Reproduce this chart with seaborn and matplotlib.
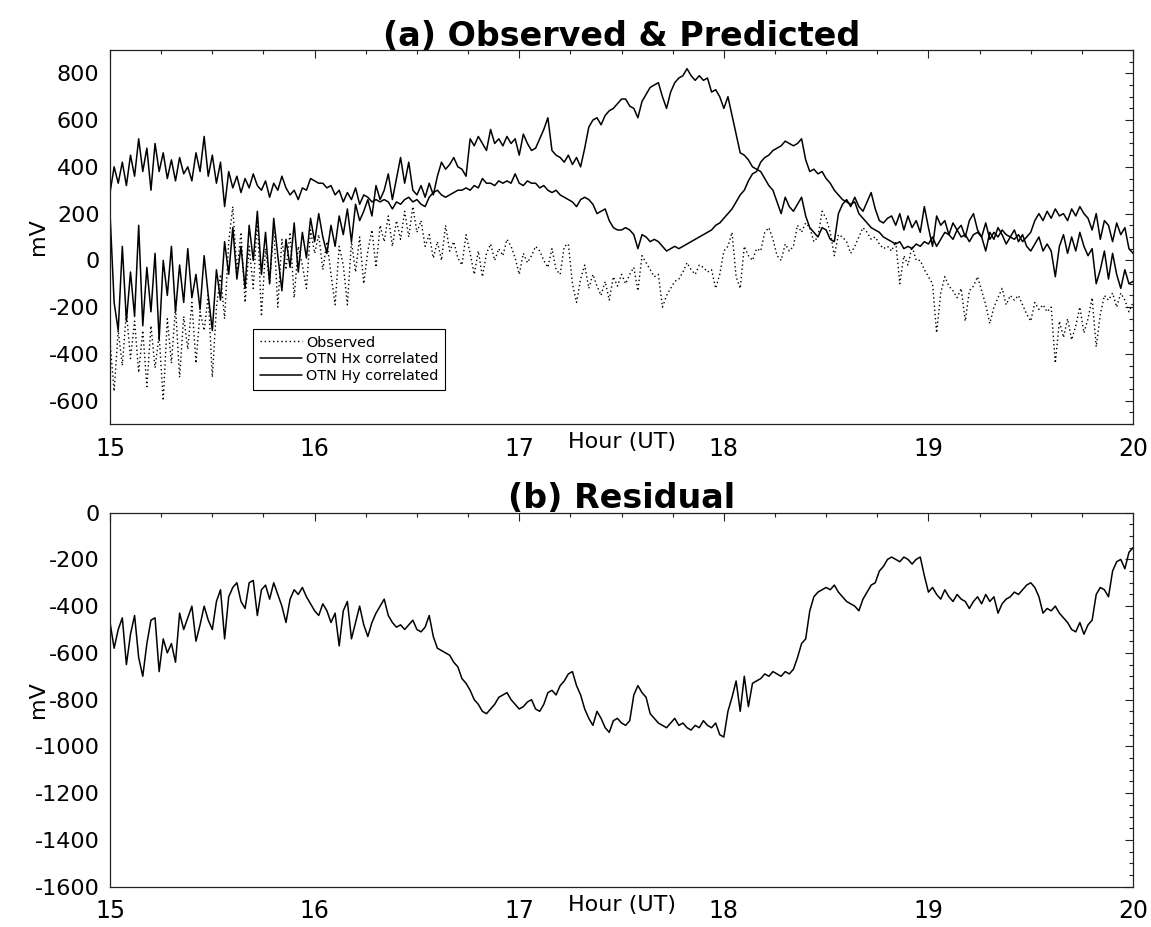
import numpy as np
import matplotlib
matplotlib.use("Agg")
import matplotlib.pyplot as plt
import seaborn as sns
from matplotlib.ticker import MultipleLocator

# ---------------------------------------------------------------
# Voltage record, 15-20 UT, one sample every 0.02 h (1.2 min)
# ---------------------------------------------------------------
observed = [
    -350, -560, -300, -450, -220, -420, -260, -480, -300, -540,   # 15.0
    -280, -460, -320, -600, -250, -440, -200, -500, -240, -380,   # 15.2
    -180, -440, -220, -300, -150, -500, -200, -60, -250, 80,      # 15.4
    230, -50, 120, -180, 60, -120, 180, -240, 50, -100,           # 15.6
    140, -200, 90, -40, 120, -160, 60, -20, -120, 130,            # 15.8
    30, 110, -40, 80, -60, -190, 60, -20, -190, 80,               # 16.0
    -50, 100, -100, 40, 130, -30, 150, 80, 190, 60,               # 16.2
    170, 90, 210, 100, 230, 120, 170, 60, 110, 10,                # 16.4
    80, 0, 150, 40, 80, 10, -20, 110, 30, -60,                    # 16.6
    40, -70, 30, 70, 0, 50, 20, 90, 60, 10,                       # 16.8
    -60, 30, -10, 20, 60, 40, 0, -30, 50, -40,                    # 17.0
    -60, 60, 70, -100, -180, -80, -20, -120, -60, -110,           # 17.2
    -150, -90, -170, -70, -110, -60, -100, -60, -30, -130,        # 17.4
    20, -10, -40, -70, -60, -200, -150, -120, -90, -80,           # 17.6
    -50, -10, -40, -60, -20, -30, -50, -40, -120, -60,            # 17.8
    40, 60, 120, -70, -120, 60, 20, 0, 50, 40,                    # 18.0
    120, 140, 90, 20, 0, 70, 40, 60, 150, 120,                    # 18.2
    160, 140, 80, 100, 210, 180, 120, 20, 110, 100,               # 18.4
    80, 30, 60, 100, 140, 120, 90, 100, 70, 50,                   # 18.6
    60, 40, 80, -100, 20, -20, 60, 0, 0, -40,                     # 18.8
    -70, -100, -310, -140, -70, -110, -130, -160, -120, -260,     # 19.0
    -130, -110, -70, -130, -190, -270, -200, -160, -120, -190,    # 19.2
    -150, -170, -150, -190, -230, -260, -180, -210, -190, -220,   # 19.4
    -200, -440, -260, -330, -250, -340, -280, -200, -310, -250,   # 19.6
    -160, -370, -230, -150, -170, -140, -200, -140, -170, -220,   # 19.8
    -180,                                                         # 20.0
]

otn_hx = [
    200, -180, -300, 60, -260, -50, -240, 150, -280, -30,         # 15.0
    -220, 30, -340, 0, -150, 60, -220, -20, -180, 50,             # 15.2
    -160, -60, -210, 20, -150, -300, -40, -170, 80, -60,          # 15.4
    140, -80, 60, -120, 150, 0, 210, -60, 120, -100,              # 15.6
    180, 20, -130, 90, -30, 160, -50, 120, 10, 180,               # 15.8
    80, 200, 100, 30, 150, 60, 190, 110, 220, 80,                 # 16.0
    240, 170, 210, 260, 190, 320, 260, 300, 370, 260,             # 16.2
    350, 440, 330, 420, 300, 280, 320, 270, 330, 280,             # 16.4
    360, 420, 390, 410, 440, 400, 390, 360, 520, 490,             # 16.6
    530, 500, 470, 560, 500, 520, 490, 530, 500, 520,             # 16.8
    450, 540, 500, 470, 480, 520, 560, 610, 470, 450,             # 17.0
    440, 420, 450, 410, 440, 400, 480, 570, 600, 610,             # 17.2
    580, 620, 640, 650, 670, 690, 690, 660, 650, 610,             # 17.4
    680, 710, 740, 750, 760, 700, 650, 720, 760, 780,             # 17.6
    790, 820, 790, 770, 790, 770, 780, 720, 730, 700,             # 17.8
    650, 700, 620, 540, 460, 450, 430, 400, 390, 380,             # 18.0
    350, 320, 300, 250, 200, 270, 230, 210, 240, 270,             # 18.2
    190, 140, 120, 100, 140, 130, 90, 80, 200, 240,               # 18.4
    260, 230, 270, 230, 210, 250, 290, 220, 170, 160,             # 18.6
    180, 190, 150, 200, 130, 190, 140, 170, 120, 230,             # 18.8
    140, 60, 190, 150, 170, 110, 160, 130, 150, 100,              # 19.0
    170, 200, 130, 100, 40, 120, 90, 140, 110, 70,                # 19.2
    100, 130, 80, 110, 60, 40, 70, 100, 40, 70,                   # 19.4
    40, -70, 60, 110, 30, 100, 40, 120, 60, 20,                   # 19.6
    50, -100, -40, 40, -80, 30, -60, -120, -40, -100,             # 19.8
    -90,                                                          # 20.0
]

otn_hy = [
    290, 400, 330, 420, 320, 450, 360, 520, 380, 480,             # 15.0
    300, 500, 380, 460, 350, 430, 340, 440, 370, 400,             # 15.2
    340, 460, 380, 530, 360, 450, 330, 420, 230, 380,             # 15.4
    310, 360, 290, 350, 310, 370, 320, 300, 340, 270,             # 15.6
    330, 300, 360, 310, 280, 300, 260, 310, 300, 350,             # 15.8
    340, 330, 330, 310, 320, 280, 300, 250, 290, 260,             # 16.0
    310, 240, 280, 270, 250, 260, 250, 260, 250, 220,             # 16.2
    250, 240, 260, 270, 250, 260, 240, 230, 270, 290,             # 16.4
    300, 280, 270, 280, 290, 300, 300, 310, 300, 320,             # 16.6
    310, 350, 330, 330, 320, 340, 330, 340, 330, 370,             # 16.8
    330, 320, 340, 330, 330, 310, 320, 300, 290, 300,             # 17.0
    280, 270, 260, 250, 230, 260, 270, 260, 240, 200,             # 17.2
    210, 220, 170, 140, 130, 130, 140, 130, 110, 50,              # 17.4
    110, 100, 80, 90, 80, 60, 40, 50, 60, 50,                     # 17.6
    60, 70, 80, 90, 100, 110, 120, 130, 150, 160,                 # 17.8
    180, 200, 220, 250, 280, 300, 340, 370, 380, 420,             # 18.0
    440, 450, 470, 480, 490, 510, 500, 490, 500, 520,             # 18.2
    430, 380, 390, 370, 380, 350, 330, 300, 280, 260,             # 18.4
    250, 240, 250, 200, 180, 160, 140, 130, 120, 100,             # 18.6
    90, 80, 70, 80, 50, 60, 50, 70, 60, 80,                       # 18.8
    70, 100, 60, 90, 120, 110, 90, 130, 100, 110,                 # 19.0
    80, 110, 120, 100, 160, 90, 120, 100, 130, 110,               # 19.2
    100, 90, 110, 80, 100, 120, 170, 200, 170, 210,               # 19.4
    180, 220, 190, 200, 170, 220, 190, 230, 200, 180,             # 19.6
    130, 200, 90, 170, 150, 80, 160, 110, 140, 50,                # 19.8
    30,                                                           # 20.0
]

residual = [
    -470, -580, -500, -450, -650, -520, -440, -620, -700, -560,   # 15.0
    -460, -450, -680, -540, -600, -560, -640, -430, -500, -450,   # 15.2
    -400, -550, -480, -400, -460, -500, -380, -330, -540, -360,   # 15.4
    -320, -300, -380, -410, -300, -290, -440, -330, -310, -370,   # 15.6
    -300, -350, -400, -470, -370, -330, -350, -320, -360, -390,   # 15.8
    -420, -440, -390, -420, -470, -430, -570, -420, -380, -540,   # 16.0
    -470, -400, -480, -530, -470, -430, -400, -370, -440, -470,   # 16.2
    -490, -480, -500, -480, -460, -500, -510, -490, -440, -530,   # 16.4
    -580, -590, -600, -610, -640, -660, -710, -730, -760, -800,   # 16.6
    -820, -850, -860, -840, -820, -790, -780, -770, -800, -820,   # 16.8
    -840, -830, -810, -800, -840, -850, -820, -770, -760, -780,   # 17.0
    -740, -720, -690, -680, -740, -780, -840, -880, -910, -850,   # 17.2
    -880, -920, -940, -890, -880, -900, -910, -890, -780, -740,   # 17.4
    -770, -790, -860, -880, -900, -910, -920, -900, -880, -910,   # 17.6
    -900, -920, -930, -910, -920, -890, -910, -920, -900, -950,   # 17.8
    -960, -850, -790, -720, -850, -700, -830, -730, -720, -710,   # 18.0
    -690, -700, -680, -690, -700, -680, -690, -670, -620, -560,   # 18.2
    -540, -420, -360, -340, -330, -320, -330, -310, -340, -360,   # 18.4
    -380, -390, -400, -420, -370, -340, -310, -300, -250, -230,   # 18.6
    -200, -190, -200, -210, -190, -200, -220, -200, -190, -270,   # 18.8
    -340, -320, -350, -370, -330, -360, -380, -350, -370, -380,   # 19.0
    -410, -380, -360, -390, -350, -380, -360, -430, -390, -370,   # 19.2
    -360, -340, -350, -330, -310, -300, -320, -360, -430, -410,   # 19.4
    -420, -400, -430, -450, -470, -500, -510, -470, -520, -480,   # 19.6
    -460, -350, -320, -330, -360, -250, -210, -200, -240, -170,   # 19.8
    -150,                                                         # 20.0
]

hours = np.round(15.0 + 0.02 * np.arange(len(observed)), 2)
assert len(observed) == len(otn_hx) == len(otn_hy) == len(residual) == 251

hour_ticks = [15, 16, 17, 18, 19, 20]

# ---------------------------------------------------------------
sns.set_theme(style="white")
plt.rcParams.update({
    "font.family": ["DejaVu Sans"],
    "axes.unicode_minus": False,
    "text.color": "black",
    "axes.labelcolor": "black",
    "xtick.color": "black",
    "ytick.color": "black",
    "axes.edgecolor": "#222222",
    "axes.linewidth": 0.9,
})

fig = plt.figure(figsize=(11.51, 9.27), dpi=100)
ax_top = fig.add_axes([0.0956, 0.5426, 0.8888, 0.4035])
ax_bot = fig.add_axes([0.0956, 0.0435, 0.8888, 0.4035])

line_kw = dict(color="black", estimator=None, sort=False, errorbar=None)

sns.lineplot(x=hours, y=observed, ax=ax_top, lw=1.0,
             linestyle=(0, (1, 2.0)), label="Observed", **line_kw)
sns.lineplot(x=hours, y=otn_hx, ax=ax_top, lw=1.1,
             label="OTN Hx correlated", **line_kw)
sns.lineplot(x=hours, y=otn_hy, ax=ax_top, lw=1.1,
             label="OTN Hy correlated", **line_kw)
sns.lineplot(x=hours, y=residual, ax=ax_bot, lw=1.1, **line_kw)


def style_axis(ax, ylim, title):
    ax.set_xlim(15, 20)
    ax.set_ylim(*ylim)
    ax.set_xticks(hour_ticks)
    ax.set_xticklabels([str(h) for h in hour_ticks])
    ax.xaxis.set_minor_locator(MultipleLocator(0.25))
    ax.yaxis.set_major_locator(MultipleLocator(200))
    ax.yaxis.set_minor_locator(MultipleLocator(50))
    ax.tick_params(which="both", direction="in", top=True, right=True,
                   color="#222222", width=0.8)
    ax.tick_params(which="major", length=5.5)
    ax.tick_params(which="minor", length=3)
    ax.tick_params(axis="x", which="major", labelsize=17, pad=9)
    ax.tick_params(axis="y", which="major", labelsize=16, pad=7.5)
    ax.set_xlabel("Hour (UT)", fontsize=16)
    ax.xaxis.set_label_coords(0.5, -0.022)
    ax.set_ylabel("mV", fontsize=16)
    ax.yaxis.set_label_coords(-0.061, 0.5)
    ax.set_title(title, fontsize=24, fontweight="bold", pad=3)
    ax.grid(False)


style_axis(ax_top, (-700, 900), "(a) Observed & Predicted")
style_axis(ax_bot, (-1600, 0), "(b) Residual")

leg = ax_top.legend(loc="upper left", bbox_to_anchor=(0.14, 0.254),
                    frameon=True, fancybox=False, edgecolor="black",
                    framealpha=1, fontsize=10.4, handlelength=2.9,
                    handletextpad=0.3, labelspacing=0.2, borderpad=0.45,
                    borderaxespad=0)
leg.get_frame().set_linewidth(0.8)

fig.savefig("out.png", dpi=100)
